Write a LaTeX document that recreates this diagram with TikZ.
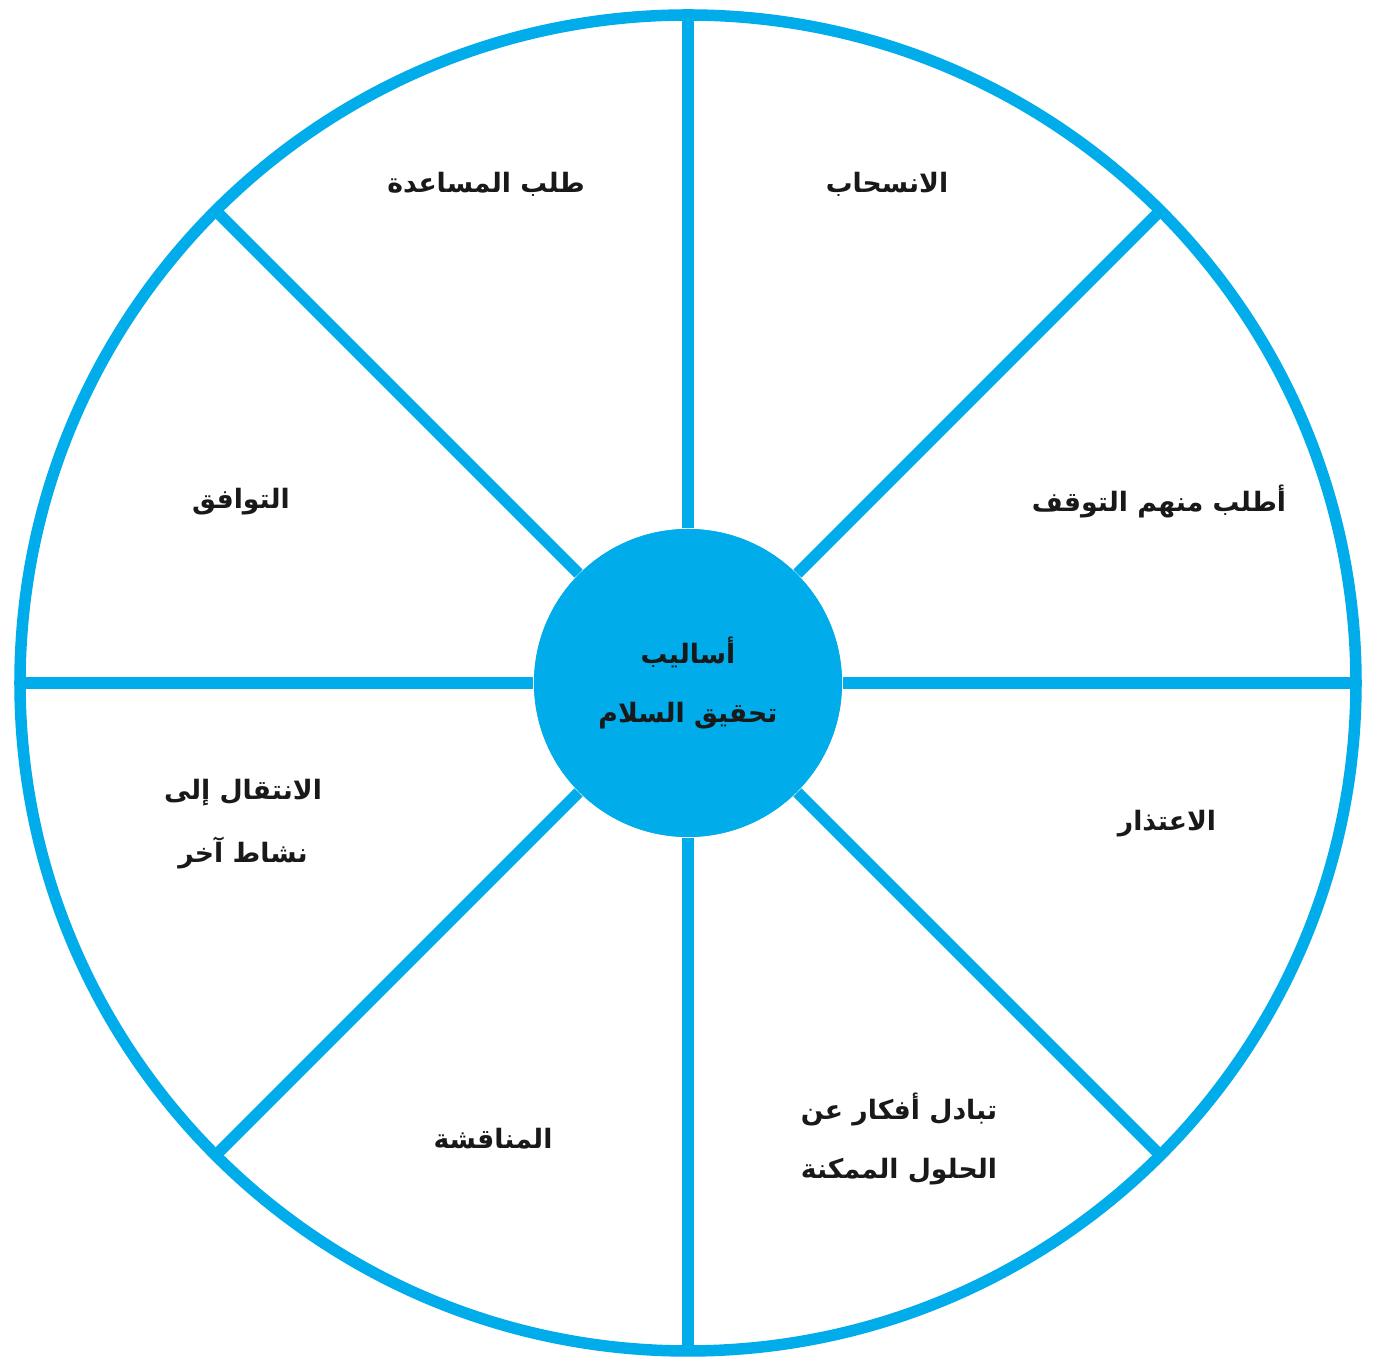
\documentclass[tikz,border=0pt]{standalone}
\usepackage{fontspec}
\usepackage{tikz}
\usetikzlibrary{positioning, calc}
\newfontfamily\arabicfont[Script=Arabic]{DejaVu Sans}
\TeXXeTstate=1
\definecolor{wheelblue}{RGB}{0,172,233}
\definecolor{labeldark}{RGB}{25,25,25}
\tikzset{
  rim/.style={draw=wheelblue, line width=0.115cm},
  spoke/.style={draw=wheelblue, line width=0.115cm},
  hub/.style={circle, fill=wheelblue, minimum size=3.08cm, inner sep=0pt,
    align=center, font=\arabicfont\bfseries\fontsize{7.6}{9}\selectfont, text=labeldark},
  label/.style={align=center, font=\arabicfont\bfseries\fontsize{7.6}{9}\selectfont, text=labeldark}
}
\begin{document}
\begin{tikzpicture}
    \useasboundingbox (-6.88,-6.75) rectangle (6.86,6.83);
    \draw[rim] (0,0) circle (6.68);
    \foreach \a in {0,45,...,315}
      \coordinate (r\a) at (\a:6.68);
    \node[hub] (hub) at (0,0) {};
    \foreach \a in {0,45,...,315}
      \draw[spoke] (hub.\a) -- (r\a);
    \node[hub] (core) at (0,0) {\beginR أساليب\endR\\[8pt]\beginR تحقيق السلام\endR};

    \node[label] (withdraw) at (1.99,4.99) {\beginR الانسحاب\endR};
    \node[label] (help) at (-2.02,4.99) {\beginR طلب المساعدة\endR};
    \node[label] (stop) at (4.71,1.81) {\beginR أطلب منهم التوقف\endR};
    \node[label] (agree) at (-4.47,1.81) {\beginR التوافق\endR};
    \node[label] (apology) at (4.79,-1.41) {\beginR الاعتذار\endR};
    \node[label] (switch) at (-4.45,-1.41) {\beginR الانتقال إلى\endR\\[8pt]\beginR نشاط آخر\endR};
    \node[label] (discuss) at (-1.95,-4.56) {\beginR المناقشة\endR};
    \node[label] (ideas) at (2.11,-4.56) {\beginR تبادل أفكار عن\endR\\[8pt]\beginR الحلول الممكنة\endR};
\end{tikzpicture}
\end{document}
